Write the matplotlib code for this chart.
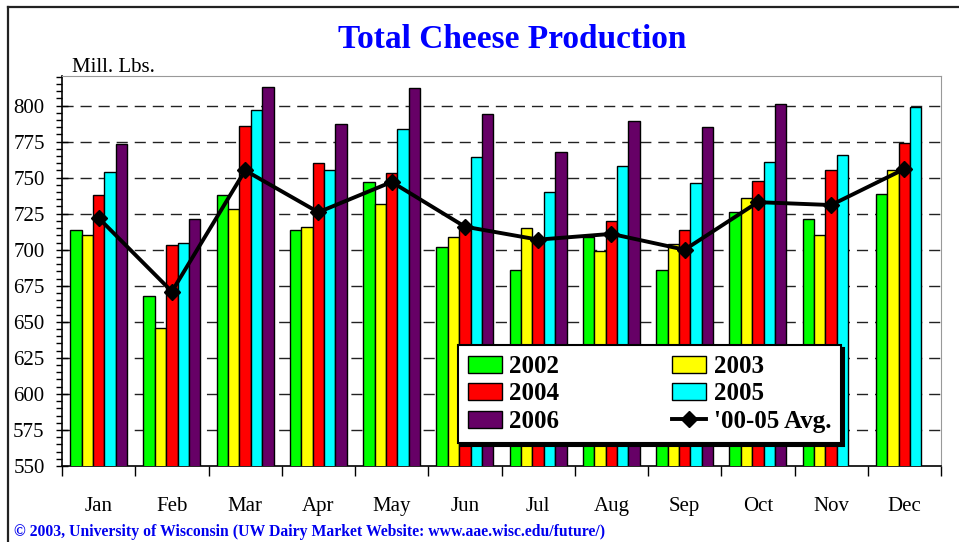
import numpy as np
import matplotlib
matplotlib.use("Agg")
import matplotlib.pyplot as plt
from matplotlib.lines import Line2D
from matplotlib.patches import Patch

months = ["Jan", "Feb", "Mar", "Apr", "May", "Jun",
          "Jul", "Aug", "Sep", "Oct", "Nov", "Dec"]
years = ["2002", "2003", "2004", "2005", "2006"]
colors = ["#00ff00", "#ffff00", "#ff0000", "#00ffff", "#660066"]

prod_2002 = [714, 668, 738, 714, 747, 702, 686, 709, 686, 726, 721, 739]
prod_2003 = [710, 646, 728, 716, 732, 709, 715, 699, 704, 736, 710, 755]
prod_2004 = [738, 703, 786, 760, 753, 717, 708, 720, 714, 748, 755, 774]
prod_2005 = [754, 705, 797, 755, 784, 764, 740, 758, 746, 761, 766, 799]
prod_2006 = [773, 721, 813, 787, 812, 794, 768, 789, 785, 801, np.nan, np.nan]
avg_00_05 = [722, 671, 755, 726, 747, 716, 707, 711, 700, 733, 731, 756]

series = [prod_2002, prod_2003, prod_2004, prod_2005, prod_2006]

plt.rcParams['font.family'] = ['Liberation Serif', 'DejaVu Serif']

fig = plt.figure(figsize=(9.59, 5.42), dpi=100)
ax = fig.add_axes([62 / 959, 1 - 466 / 542, (941 - 62) / 959, (466 - 76) / 542])

x = np.arange(len(months))
w = 0.155
for i, (vals, c) in enumerate(zip(series, colors)):
    ax.bar(x + (i - 2) * w, vals, width=w, color=c, edgecolor="black",
           linewidth=1, zorder=3)

ax.plot(x, avg_00_05, color="black", lw=2.8, marker="D", ms=8, zorder=5)

ax.set_xlim(-0.5, 11.5)
ax.set_ylim(550, 820.5)

ax.set_yticks(np.arange(550, 801, 25))
ax.set_yticks(np.arange(550, 821, 5), minor=True)
ax.tick_params(axis="y", which="major", direction="inout", length=9, width=1,
               labelsize=15, pad=8)
ax.tick_params(axis="y", which="minor", direction="out", length=4, width=1)

ax.set_xticks(np.arange(-0.5, 12, 1))
ax.set_xticklabels([])
ax.set_xticks(x, minor=True)
ax.set_xticklabels(months, minor=True)
ax.tick_params(axis="x", which="major", direction="out", length=7, width=1)
ax.tick_params(axis="x", which="minor", length=0, labelsize=15, pad=22)

for v in np.arange(575, 801, 25):
    ax.axhline(v, color="#222222", lw=1, ls=(0, (8, 5)), zorder=1)

ax.spines["left"].set_linewidth(1.2)
ax.spines["bottom"].set_linewidth(1.2)
ax.spines["top"].set_color("#999999")
ax.spines["right"].set_color("#999999")

fig.text(512 / 959, 1 - 48 / 542, "Total Cheese Production", color="#0000ff",
         fontsize=24, fontweight="bold", ha="center", va="baseline")
fig.text(72 / 959, 1 - 72 / 542, "Mill. Lbs.", fontsize=15, ha="left", va="baseline")
fig.text(14 / 959, 1 - 536 / 542,
         "\u00a9 2003, University of Wisconsin (UW Dairy Market Website: www.aae.wisc.edu/future/)",
         color="#0000ee", fontsize=11.3, fontweight="bold", ha="left", va="baseline")

# frame lines along top and left of the picture
fig.add_artist(Line2D([8 / 959, 8 / 959], [0, 1 - 7 / 542], color="#222222", lw=1.6))
fig.add_artist(Line2D([8 / 959, 1], [1 - 7 / 542, 1 - 7 / 542], color="#222222", lw=1.6))

handles = [Patch(facecolor=colors[0], edgecolor="black", label="2002"),
           Patch(facecolor=colors[2], edgecolor="black", label="2004"),
           Patch(facecolor=colors[4], edgecolor="black", label="2006"),
           Patch(facecolor=colors[1], edgecolor="black", label="2003"),
           Patch(facecolor=colors[3], edgecolor="black", label="2005"),
           Line2D([], [], color="black", lw=2.8, marker="D", ms=8, label="'00-05 Avg.")]
leg = ax.legend(handles=handles, ncol=2, loc="upper left",
                bbox_to_anchor=(458 / 959, 1 - 345 / 542),
                bbox_transform=fig.transFigure, borderaxespad=0,
                prop={"weight": "bold", "size": 18}, frameon=True, fancybox=False,
                shadow={"color": "black", "alpha": 1}, handlelength=1.36,
                handleheight=0.65, labelspacing=0.18, columnspacing=4.5,
                borderpad=0.4, handletextpad=0.3)
leg.get_frame().set_edgecolor("black")
leg.get_frame().set_linewidth(1.5)
leg.set_zorder(10)

fig.savefig("out.png", dpi=100)
